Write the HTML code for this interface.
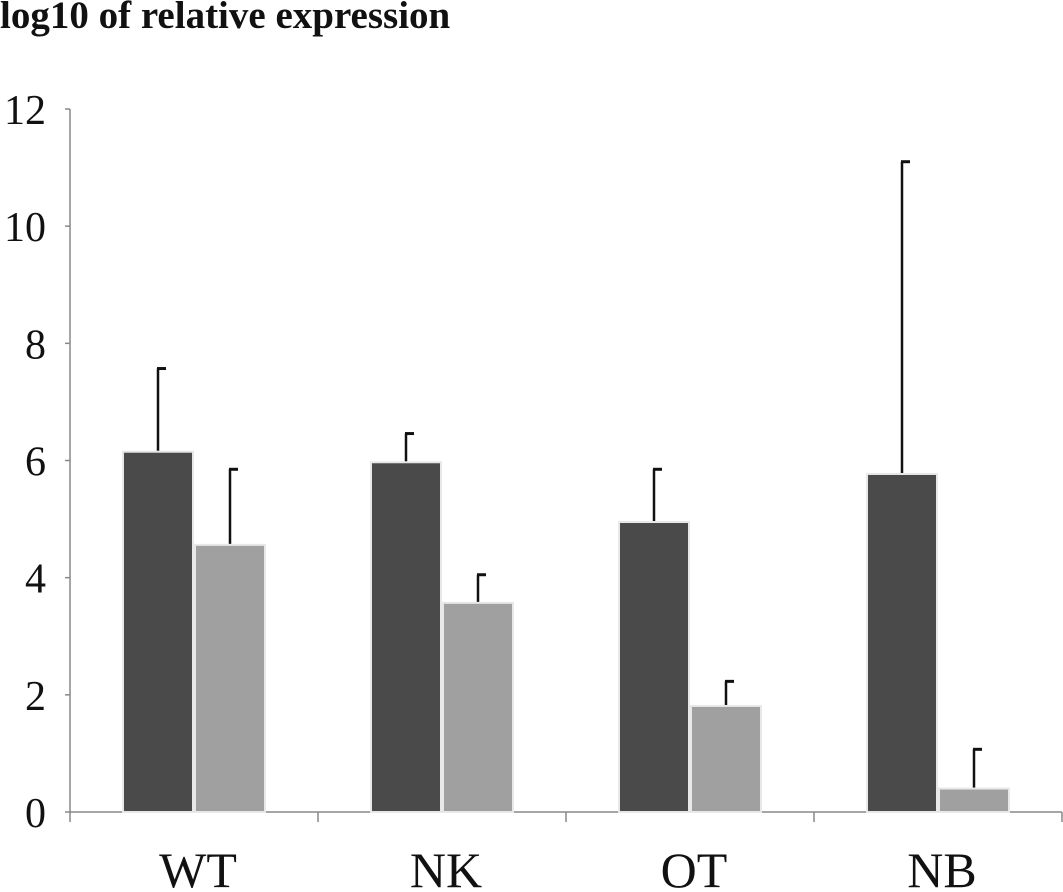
<!DOCTYPE html>
<html><head><meta charset="utf-8"><style>
html,body{margin:0;padding:0;background:#fff;}
svg{display:block;font-family:"Liberation Serif",serif;}
</style></head><body>
<svg id="chart" width="1063" height="892">
<text x="0" y="28" font-size="39" font-weight="bold" fill="#111">log10 of relative expression</text>
<g id="axes"></g><g id="bars"></g>
</svg>
<script>
const categories=["WT","NK","OT","NB"];
const seriesDark=[6.15,5.97,4.95,5.77];
const errDark=[7.57,6.46,5.85,11.1];
const seriesLight=[4.56,3.57,1.81,0.4];
const errLight=[5.85,4.05,2.23,1.07];
const yTicks=[0,2,4,6,8,10,12];
const NS="http://www.w3.org/2000/svg";
const x0=70,x1=1062,yBase=812,yTop=109,yMax=12;
const y=v=>yBase-(v/yMax)*(yBase-yTop);
const bandW=(x1-x0)/categories.length;
function mk(t,a,p){const e=document.createElementNS(NS,t);for(const k in a)e.setAttribute(k,a[k]);p.appendChild(e);return e;}
const ax=document.getElementById('axes'),bg=document.getElementById('bars');
const yl=mk('line',{x1:x0,y1:yTop,x2:x0,y2:yBase,stroke:'#888','stroke-width':1.5},ax);


const xl=mk('line',{x1:x0,y1:yBase,x2:x1,y2:yBase,stroke:'#888','stroke-width':1.5},ax);


yTicks.forEach(v=>{
 mk('line',{x1:x0-5,y1:y(v),x2:x0,y2:y(v),stroke:'#888','stroke-width':1.5},ax);
 const t=mk('text',{x:46,y:y(v)+15,'font-size':42,'text-anchor':'end',fill:'#111'},ax);
 t.textContent=v;
 
 
});
categories.forEach((c,i)=>{
 const bx=x0+i*bandW;
 mk('line',{x1:bx,y1:yBase,x2:bx,y2:yBase+10,stroke:'#888','stroke-width':1.5},ax);
 if(i==categories.length-1) mk('line',{x1:bx+bandW,y1:yBase,x2:bx+bandW,y2:yBase+10,stroke:'#888','stroke-width':1.5},ax);
 const t=mk('text',{x:bx+bandW/2+4,y:887,'font-size':50,'text-anchor':'middle',fill:'#111'},ax);
 t.textContent=c;
 
 
 const specs=[[seriesDark[i],errDark[i],'#4a4a4a',bx+53],[seriesLight[i],errLight[i],'#a0a0a0',bx+125]];
 specs.forEach(([v,e,col,left],j)=>{
  const w=70,cx=left+w/2;
  const el=mk('line',{x1:cx,y1:y(e),x2:cx,y2:y(v),stroke:'#111','stroke-width':2.5},bg);
  
  
  mk('line',{x1:cx-1,y1:y(e),x2:cx+8,y2:y(e),stroke:'#111','stroke-width':3},bg);
  const r=mk('rect',{x:left,y:y(v),width:w,height:yBase-y(v),fill:col,stroke:'#e8e8e8','stroke-width':2},bg);
  
  
 });
});
</script>
</body></html>
